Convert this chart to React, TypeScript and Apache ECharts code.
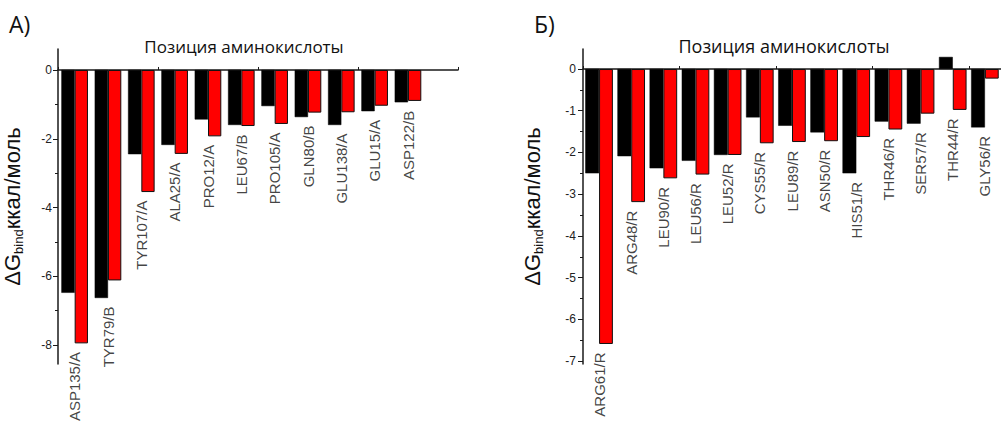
import React, { useEffect, useRef } from "react";
import * as echarts from "echarts";

// Panel A
const catsA = ["ASP135/A", "TYR79/B", "TYR107/A", "ALA25/A", "PRO12/A", "LEU67/B", "PRO105/A", "GLN80/B", "GLU138/A", "GLU15/A", "ASP122/B", ""];
const blackA = [-6.48, -6.63, -2.45, -2.18, -1.44, -1.6, -1.05, -1.37, -1.6, -1.2, -0.94, null];
const redA = [-7.95, -6.12, -3.55, -2.44, -1.93, -1.63, -1.57, -1.24, -1.23, -1.04, -0.9, null];
const majorA = [-8, -6, -4, -2, 0];
const minorA = [-7, -5, -3, -1];

// Panel Б
const catsB = ["ARG61/R", "ARG48/R", "LEU90/R", "LEU56/R", "LEU52/R", "CYS55/R", "LEU89/R", "ASN50/R", "HIS51/R", "THR46/R", "SER57/R", "THR44/R", "GLY56/R"];
const blackB = [-2.5, -2.09, -2.38, -2.2, -2.06, -1.16, -1.36, -1.52, -2.5, -1.26, -1.31, 0.29, -1.4];
const redB = [-6.59, -3.19, -2.62, -2.53, -2.06, -1.78, -1.75, -1.73, -1.63, -1.45, -1.07, -0.98, -0.23];
const majorB = [-7, -6, -5, -4, -3, -2, -1, 0];
const minorB = [-6.5, -5.5, -4.5, -3.5, -2.5, -1.5, -0.5];

const panelTitles = ["A)", "Б)"];
const xTitle = "Позиция аминокислоты";

const AX = "#1a1a1a";
const NUM_FONT = "'Liberation Sans', Arial, sans-serif";
const TXT_FONT = "'Open Sans', 'Noto Sans', sans-serif";

function lowest(b: (number | null)[], r: (number | null)[]) {
  return b.map((v, i) => (v == null || r[i] == null ? null : Math.min(v as number, r[i] as number)));
}

export default function App() {
  const ref = useRef<HTMLDivElement>(null);
  useEffect(() => {
    if (!ref.current) return;
    const chart = echarts.init(ref.current, undefined, { renderer: "svg" });

    const panels = [
      { cats: catsA, black: blackA, red: redA, major: majorA, minor: minorA, min: -8.55, max: 0.61, barW: 13.3, nameGap: 33, labelMargin: 6 },
      { cats: catsB, black: blackB, red: redB, major: majorB, minor: minorB, min: -7.07, max: 0.48, barW: 13.8, nameGap: 38, labelMargin: 7 },
    ];

    const xAxis: any[] = [];
    const yAxis: any[] = [];
    const series: any[] = [];

    panels.forEach((p, gi) => {
      xAxis.push({
        type: "category",
        gridIndex: gi,
        data: p.cats,
        position: "top",
        axisLine: { onZero: true, onZeroAxisIndex: gi * 2, lineStyle: { color: AX, width: 1.5 } },
        axisTick: { show: true, length: 3, lineStyle: { color: AX, width: 1 } },
        axisLabel: { show: false },
        splitLine: { show: false },
      });
      yAxis.push({
        type: "value",
        gridIndex: gi,
        position: "left",
        min: p.min,
        max: p.max,
        axisLine: { show: true, onZero: false, lineStyle: { color: AX, width: 1.5 } },
        axisTick: { show: true, length: 5, customValues: p.major, lineStyle: { color: AX, width: 1 } },
        axisLabel: { show: true, customValues: p.major, margin: p.labelMargin, fontSize: 12, fontFamily: NUM_FONT, color: "#222" },
        splitLine: { show: false },
        name: "{a|ΔG}{s|bind}{a|ккал/моль}",
        nameLocation: "middle",
        nameRotate: 90,
        nameGap: p.nameGap,
        nameTextStyle: {
          rich: {
            a: { fontSize: 22, fontFamily: NUM_FONT, color: "#111", lineHeight: 26 },
            s: { fontSize: 13, fontFamily: NUM_FONT, color: "#111", lineHeight: 13, verticalAlign: "bottom" },
          },
        },
      });
      yAxis.push({
        type: "value",
        gridIndex: gi,
        position: "left",
        offset: 0,
        min: p.min,
        max: p.max,
        axisLine: { show: false, onZero: false },
        axisTick: { show: true, length: 3, customValues: p.minor, lineStyle: { color: AX, width: 1 } },
        axisLabel: { show: false },
        splitLine: { show: false },
      });
      series.push({
        type: "bar",
        xAxisIndex: gi,
        yAxisIndex: gi * 2,
        data: p.black,
        barWidth: p.barW,
        barGap: "0%",
        itemStyle: { color: "#000000", borderColor: "#000", borderWidth: 0.5 },
      });
      series.push({
        type: "bar",
        xAxisIndex: gi,
        yAxisIndex: gi * 2,
        data: p.red,
        barWidth: p.barW,
        barGap: "0%",
        itemStyle: { color: "#ff0000", borderColor: "#111", borderWidth: 1 },
      });
      series.push({
        type: "scatter",
        xAxisIndex: gi,
        yAxisIndex: gi * 2,
        data: lowest(p.black, p.red),
        symbolSize: 1,
        itemStyle: { color: "rgba(0,0,0,0)" },
        label: {
          show: true,
          formatter: "{b}",
          position: "bottom",
          distance: 8,
          rotate: 90,
          align: "right",
          verticalAlign: "middle",
          fontSize: 15,
          fontFamily: NUM_FONT,
          color: "#111",
        },
      });
    });

    chart.setOption({
      animation: false,
      grid: [
        { left: 56, top: 49, width: 402, height: 315 },
        { left: 583, top: 49, width: 428, height: 315 },
      ],
      xAxis,
      yAxis,
      series,
      graphic: [
        { type: "text", left: 9, top: 12, style: { text: panelTitles[0], fontSize: 23, fontFamily: TXT_FONT, fill: "#111" } },
        { type: "text", left: 534, top: 12, style: { text: panelTitles[1], fontSize: 23, fontFamily: TXT_FONT, fill: "#111" } },
        { type: "text", x: 244, y: 46, style: { text: xTitle, fontSize: 17, fontFamily: TXT_FONT, fill: "#111", align: "center", verticalAlign: "middle" } },
        { type: "text", x: 784, y: 46, style: { text: xTitle, fontSize: 18, fontFamily: TXT_FONT, fill: "#111", align: "center", verticalAlign: "middle" } },
      ],
    });
    return () => chart.dispose();
  }, []);

  return (
    <div style={{ position: "fixed", left: 0, top: 0, width: 1001, height: 421, overflow: "hidden", background: "#fff" }}>
      <div ref={ref} style={{ width: 1001, height: 421 }} />
    </div>
  );
}
